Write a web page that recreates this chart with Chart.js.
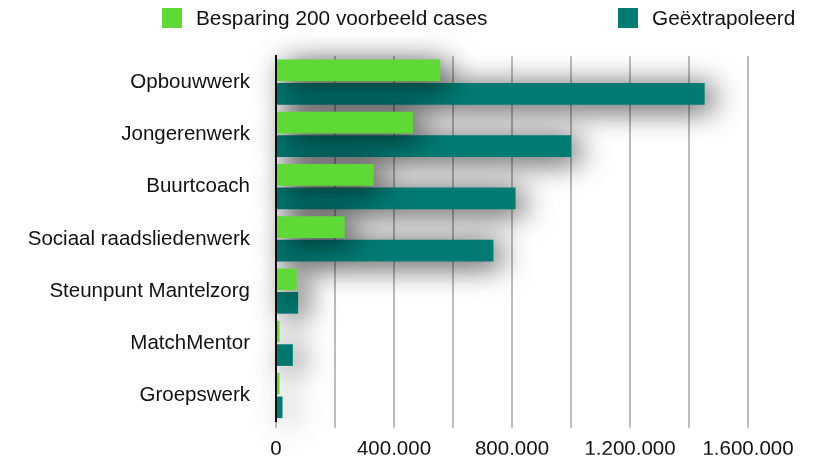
<!DOCTYPE html>
<html>
<head>
<meta charset="utf-8">
<script src="https://cdn.jsdelivr.net/npm/chart.js@4"></script>
<style>
  body { margin: 0; background: #fff; }
  #wrap { position: relative; width: 814px; height: 460px; }
  .key { position: absolute; font: 20.8px "Liberation Sans", Arial, sans-serif; color: #111; }
  .box { position: absolute; width: 20px; height: 20px; }
</style>
</head>
<body>
<div id="wrap">
  <canvas id="chart"></canvas>
  <div class="box" style="left:162px;top:8px;background:#5fd936"></div>
  <div class="key" style="left:196px;top:6px">Besparing 200 voorbeeld cases</div>
  <div class="box" style="left:618px;top:8px;background:#007b73"></div>
  <div class="key" style="left:652px;top:6px">Geëxtrapoleerd</div>
</div>
<script>
const categories = [
  "Opbouwwerk",
  "Jongerenwerk",
  "Buurtcoach",
  "Sociaal raadsliedenwerk",
  "Steunpunt Mantelzorg",
  "MatchMentor",
  "Groepswerk",
];
const besparing = [557000, 464000, 331000, 233000, 70000, 12000, 12000];
const geextrapoleerd = [1453000, 1000000, 812000, 737000, 75000, 57000, 22000];
const tickLabels = { 0: "0", 400000: "400.000", 800000: "800.000", 1200000: "1.200.000", 1600000: "1.600.000" };

const font = { family: "'Liberation Sans', Arial, sans-serif", size: 20.5 };

// soft drop shadow under the bars only
const barShadow = {
  id: "barShadow",
  beforeDatasetsDraw(chart) {
    const ctx = chart.ctx;
    ctx.save();
    ctx.shadowColor = "rgba(0,0,0,0.8)";
    ctx.shadowBlur = 30;
    ctx.shadowOffsetX = 8;
    ctx.shadowOffsetY = 4;
  },
  afterDatasetsDraw(chart) {
    chart.ctx.restore();
  },
};

new Chart(document.getElementById("chart"), {
  type: "bar",
  data: {
    labels: categories,
    datasets: [
      { label: "Besparing 200 voorbeeld cases", data: besparing, backgroundColor: "#5fd936", clip: false },
      { label: "Geëxtrapoleerd", data: geextrapoleerd, backgroundColor: "#007b73", clip: false },
    ],
  },
  options: {
    indexAxis: "y",
    responsive: true,
    maintainAspectRatio: false,
    animation: false,
    categoryPercentage: 0.9,
    barPercentage: 0.92,
    layout: { padding: { top: 56, right: 66, bottom: 0, left: 0 } },
    plugins: { legend: { display: false }, tooltip: { enabled: false } },
    scales: {
      x: {
        min: 0,
        max: 1600000,
        ticks: {
          stepSize: 200000,
          color: "#111",
          font,
          padding: 9,
          maxRotation: 0,
          autoSkip: false,
          callback: (v) => tickLabels[v] ?? "",
        },
        grid: { color: "#bdbdbd", lineWidth: 2, tickLength: 6 },
        border: { display: false },
        afterFit(scale) {
          scale.height = 33;
        },
      },
      y: {
        grid: { display: false, drawTicks: false },
        border: { display: true, color: "#111", width: 2 },
        ticks: { color: "#111", font, padding: 26 },
        afterFit(scale) {
          scale.width = 276;
        },
      },
    },
  },
  plugins: [barShadow],
});
</script>
</body>
</html>
